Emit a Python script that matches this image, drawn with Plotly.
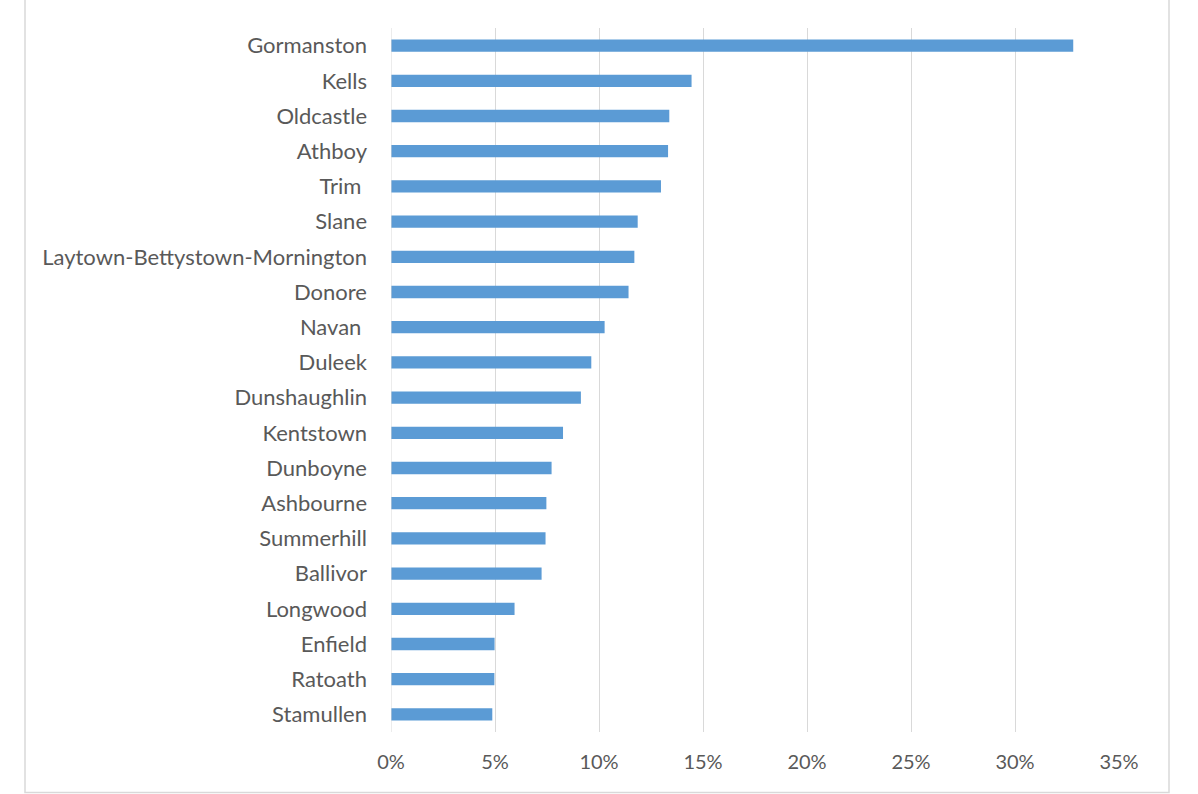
import plotly.graph_objects as go

# Share by town (fraction), top to bottom
towns = [
    "Gormanston", "Kells", "Oldcastle", "Athboy", "Trim\u00a0", "Slane",
    "Laytown-Bettystown-Mornington", "Donore", "Navan\u00a0", "Duleek",
    "Dunshaughlin", "Kentstown", "Dunboyne", "Ashbourne", "Summerhill",
    "Ballivor", "Longwood", "Enfield", "Ratoath", "Stamullen",
]
shares = [
    0.328, 0.1445, 0.1338, 0.1332, 0.1298, 0.1186,
    0.1170, 0.1142, 0.1027, 0.0963,
    0.0913, 0.0827, 0.0772, 0.0747, 0.0743,
    0.0724, 0.0594, 0.0498, 0.0497, 0.0487,
]
tick_vals = [0, 0.05, 0.10, 0.15, 0.20, 0.25, 0.30, 0.35]
tick_text = ["0%", "5%", "10%", "15%", "20%", "25%", "30%", "35%"]

W, H = 1198, 794
ML, MR, MT, MB = 391, 79, 28, 62
FONT = "Lato, Open Sans, Liberation Sans, sans-serif"

fig = go.Figure(
    go.Bar(
        x=shares,
        y=towns,
        orientation="h",
        width=0.35,
        marker=dict(color="#5B9BD5", line=dict(width=0)),
    )
)

fig.update_layout(
    width=W,
    height=H,
    margin=dict(l=ML, r=MR, t=MT, b=MB),
    paper_bgcolor="white",
    plot_bgcolor="white",
    showlegend=False,
    font=dict(family=FONT, color="#595959", size=20),
    xaxis=dict(
        range=[0, 0.35],
        tickvals=tick_vals,
        ticktext=tick_text,
        showgrid=True,
        gridcolor="#D9D9D9",
        gridwidth=1,
        zeroline=False,
        showline=False,
        ticks="",
        tickfont=dict(family=FONT, size=20, color="#595959"),
        ticklabelstandoff=16,
    ),
    yaxis=dict(
        autorange="reversed",
        showgrid=False,
        zeroline=False,
        showline=False,
        ticks="",
        tickfont=dict(family=FONT, size=22, color="#595959"),
        ticklabelstandoff=23,
    ),
)

# Left axis line at 0%
fig.add_shape(
    type="line", xref="x", yref="paper",
    x0=0, x1=0, y0=0, y1=1,
    line=dict(color="#D9D9D9", width=1),
)

# Outer chart border
pw = W - ML - MR
ph = H - MT - MB
fig.add_shape(
    type="rect", xref="paper", yref="paper",
    x0=(25 - ML) / pw, x1=(1169 - ML) / pw,
    y0=-(792.5 - (H - MB)) / ph, y1=1 + (MT + 5) / ph,
    line=dict(color="#D9D9D9", width=1.5),
    fillcolor="rgba(0,0,0,0)",
    layer="below",
)

fig.write_html("out.html")
